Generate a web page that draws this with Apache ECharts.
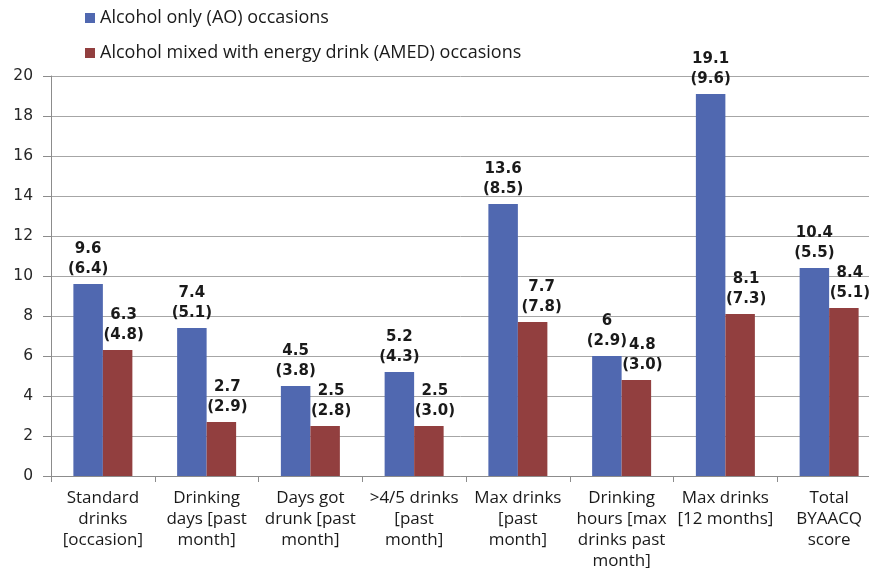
<!DOCTYPE html>
<html>
<head>
<meta charset="utf-8">
<title>AO vs AMED occasions</title>
<script src="https://cdn.jsdelivr.net/npm/echarts@6/dist/echarts.min.js"></script>
<style>
  html, body { margin: 0; padding: 0; background: #ffffff; }
  #chart { width: 869px; height: 568px; }
</style>
</head>
<body>
<div id="chart"></div>
<script>
// Category labels (line breaks as printed under the axis)
const categories = [
  'Standard\ndrinks\n[occasion]',
  'Drinking\ndays [past\nmonth]',
  'Days got\ndrunk [past\nmonth]',
  '>4/5 drinks\n[past\nmonth]',
  'Max drinks\n[past\nmonth]',
  'Drinking\nhours [max\ndrinks past\nmonth]',
  'Max drinks\n[12 months]',
  'Total\nBYAACQ\nscore'
];

// Means and standard deviations per occasion type
const aoMean   = [9.6, 7.4, 4.5, 5.2, 13.6, 6, 19.1, 10.4];
const aoSD     = [6.4, 5.1, 3.8, 4.3, 8.5, 2.9, 9.6, 5.5];
const amedMean = [6.3, 2.7, 2.5, 2.5, 7.7, 4.8, 8.1, 8.4];
const amedSD   = [4.8, 2.9, 2.8, 3.0, 7.8, 3.0, 7.3, 5.1];

const yTicks = { min: 0, max: 20, interval: 2 };

const seriesNames = ['Alcohol only (AO) occasions', 'Alcohol mixed with energy drink (AMED) occasions'];
const colors = ['#5068B0', '#923F3F'];

const labelFont = {
  fontFamily: 'DejaVu Sans',
  fontWeight: 'bold',
  fontSize: 15,
  lineHeight: 20,
  color: '#1a1a1a'
};

function meanSdLabel(sd) {
  return function (p) {
    return p.value + '\n(' + sd[p.dataIndex].toFixed(1) + ')';
  };
}

const chart = echarts.init(document.getElementById('chart'), null, { renderer: 'canvas' });

chart.setOption({
  animation: false,
  backgroundColor: '#ffffff',
  color: colors,
  legend: {
    orient: 'vertical',
    left: 85,
    top: 9,
    padding: 0,
    itemWidth: 10,
    itemHeight: 10,
    itemGap: 17,
    icon: 'rect',
    textStyle: { fontFamily: 'Open Sans', fontSize: 18, color: '#1a1a1a', lineHeight: 18 },
    data: seriesNames
  },
  // the plot runs slightly past the right edge of the canvas
  grid: { left: 51, top: 76, bottom: 92, width: 830, containLabel: false, outerBoundsMode: 'none' },
  xAxis: {
    type: 'category',
    data: categories,
    axisLine: { lineStyle: { color: '#8c8c8c', width: 1 } },
    axisTick: { show: true, length: 6, lineStyle: { color: '#8c8c8c' } },
    axisLabel: {
      interval: 0,
      margin: 12,
      fontFamily: 'Open Sans',
      fontSize: 17,
      lineHeight: 21,
      color: '#1a1a1a'
    }
  },
  yAxis: {
    type: 'value',
    min: yTicks.min,
    max: yTicks.max,
    interval: yTicks.interval,
    axisLine: { show: true, lineStyle: { color: '#8c8c8c', width: 1 } },
    axisTick: { show: true, length: 8, lineStyle: { color: '#8c8c8c' } },
    axisLabel: { margin: 18, fontFamily: 'DejaVu Sans', fontSize: 15.5, color: '#262626' },
    splitLine: { lineStyle: { color: '#a6a6a6', width: 1 } }
  },
  series: [
    {
      name: seriesNames[0],
      type: 'bar',
      data: aoMean,
      barWidth: 29.5,
      barGap: '0%',
      label: Object.assign({
        show: true,
        position: 'top',
        distance: 5,
        formatter: meanSdLabel(aoSD)
      }, labelFont)
    },
    {
      name: seriesNames[1],
      type: 'bar',
      data: amedMean.map(function (v, i) {
        return i === 4 ? { value: v, label: { offset: [9, 0] } } : v;
      }),
      barWidth: 29.5,
      barGap: '0%',
      label: Object.assign({
        show: true,
        position: 'top',
        distance: 5,
        offset: [6, 0],
        formatter: meanSdLabel(amedSD)
      }, labelFont)
    }
  ]
});
</script>
</body>
</html>
